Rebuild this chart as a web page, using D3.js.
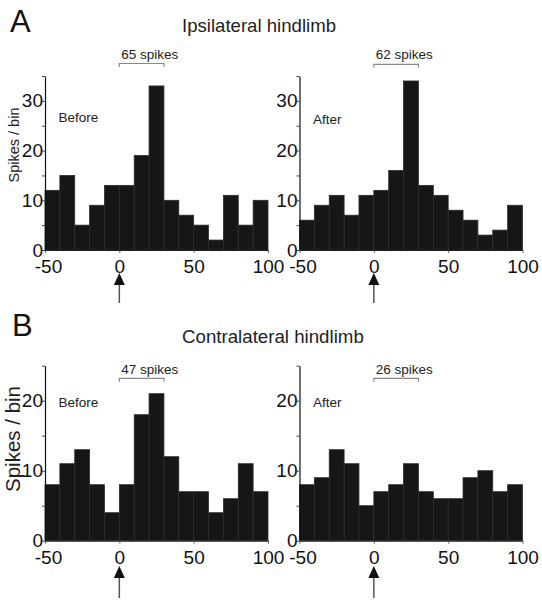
<!DOCTYPE html>
<html>
<head>
<meta charset="utf-8">
<script src="https://cdn.jsdelivr.net/npm/d3@7"></script>
<style>
  html, body { margin: 0; padding: 0; background: #fff; }
  svg { display: block; font-family: "Liberation Sans", Arial, sans-serif; }
</style>
</head>
<body>
<svg id="chart" width="542" height="601"></svg>
<script>
// ---- data ----
const binStarts = [-50, -40, -30, -20, -10, 0, 10, 20, 30, 40, 50, 60, 70, 80, 90];
const binWidth = 10;
const ipsiBefore   = [12, 15, 5, 9, 13, 13, 19, 33, 10, 7, 5, 2, 11, 5, 10];
const ipsiAfter    = [6, 9, 11, 7, 11, 12, 16, 34, 13, 11, 8, 6, 3, 4, 9];
const contraBefore = [8, 11, 13, 8, 4, 8, 18, 21, 12, 7, 7, 4, 6, 11, 7];
const contraAfter  = [8, 9, 13, 11, 5, 7, 8, 11, 7, 6, 6, 9, 10, 7, 8];
const spikeCounts  = [65, 62, 47, 26];
const conditionLabels = ["Before", "After", "Before", "After"];
const rowTitles = ["Ipsilateral hindlimb", "Contralateral hindlimb"];
const rowLetters = ["A", "B"];
const xTicks = [-50, 0, 50, 100];
const yMaxIpsi = 35, yMaxContra = 25;
const yTicksIpsi = [0, 5, 10, 15, 20, 25, 30, 35];
const yTicksContra = [0, 5, 10, 15, 20, 25];
const windowRange = [0, 30];
const yLabel = "Spikes / bin";

const svg = d3.select("#chart");

const panels = [
  { data: ipsiBefore,   x0: 45,    x1: 268,   yb: 250,   yt: 76,    ymax: yMaxIpsi,   yticks: yTicksIpsi,   spikes: spikeCounts[0], label: conditionLabels[0], bracketY: 63.5, textY: 58.5, condY: 122, arrow: [273, 285, 303] },
  { data: ipsiAfter,    x0: 299.5, x1: 522.5, yb: 250,   yt: 76,    ymax: yMaxIpsi,   yticks: yTicksIpsi,   spikes: spikeCounts[1], label: conditionLabels[1], bracketY: 64.3, textY: 59.3, condY: 124, arrow: [273, 285, 303] },
  { data: contraBefore, x0: 45,    x1: 268,   yb: 540.7, yt: 365.7, ymax: yMaxContra, yticks: yTicksContra, spikes: spikeCounts[2], label: conditionLabels[2], bracketY: 378.3, textY: 373.5, condY: 407, arrow: [566, 578, 598] },
  { data: contraAfter,  x0: 299.5, x1: 522.5, yb: 540.7, yt: 365.7, ymax: yMaxContra, yticks: yTicksContra, spikes: spikeCounts[3], label: conditionLabels[3], bracketY: 378.3, textY: 373.5, condY: 407, arrow: [566, 578, 598] }
];

panels.forEach((p, i) => {
  const x = d3.scaleLinear().domain([-50, 100]).range([p.x0, p.x1]);
  const y = d3.scaleLinear().domain([0, p.ymax]).range([p.yb, p.yt]);
  const g = svg.append("g");

  // x axis (under bars)
  const xa = g.append("g")
    .attr("transform", `translate(0,${p.yb})`)
    .call(d3.axisBottom(x).tickValues(xTicks).tickSize(3).tickPadding(6.5).tickSizeOuter(0)
      .tickFormat(d => String(d)));
  xa.select(".domain").attr("stroke", "#111");
  xa.selectAll(".tick line").attr("stroke", "#666");
  xa.selectAll("text").attr("font-size", 19).attr("fill", "#111")
    .attr("font-family", "Liberation Sans, Arial, sans-serif")
    .attr("dx", d => d < 0 ? 3 : 0);

  // bars
  g.selectAll("rect.bar").data(p.data).enter().append("rect")
    .attr("class", "bar")
    .attr("x", (d, j) => x(binStarts[j]))
    .attr("width", (d, j) => x(binStarts[j] + binWidth) - x(binStarts[j]))
    .attr("y", d => y(d))
    .attr("height", d => p.yb - y(d))
    .attr("fill", "#161616")
    .attr("stroke", "#2c2c2c")
    .attr("stroke-width", 0.8);

  // y axis
  const ya = g.append("g")
    .attr("transform", `translate(${p.x0},0)`)
    .call(d3.axisLeft(y).tickValues(p.yticks).tickSize(3).tickPadding(-1).tickSizeOuter(0)
      .tickFormat(d => (d % 10 === 0 && d < p.ymax) ? String(d) : ""));
  ya.select(".domain").attr("stroke", "#111").attr("stroke-width", 1.2);
  ya.selectAll(".tick line").attr("stroke", "#444");
  ya.selectAll("text").attr("font-size", 19).attr("fill", "#111")
    .attr("font-family", "Liberation Sans, Arial, sans-serif");

  // bracket for counting window
  const bx0 = x(windowRange[0]), bx1 = x(windowRange[1]);
  g.append("path")
    .attr("d", `M${bx0},${p.bracketY + 3.5}V${p.bracketY}H${bx1}V${p.bracketY + 3.5}`)
    .attr("fill", "none").attr("stroke", "#888").attr("stroke-width", 1.2);
  g.append("text")
    .attr("x", bx0 + 2).attr("y", p.textY)
    .attr("font-size", 13.5).attr("fill", "#222")
    .text(p.spikes + " spikes");

  // condition label
  g.append("text")
    .attr("x", p.x0 + 13.5).attr("y", p.condY)
    .attr("font-size", 13.5).attr("fill", "#222")
    .text(p.label);

  // stimulus arrow at 0
  const ax = x(0);
  const [aTop, aBase, aEnd] = p.arrow;
  g.append("path")
    .attr("d", `M${ax},${aTop}L${ax + 5.5},${aBase}L${ax - 5.5},${aBase}Z`)
    .attr("fill", "#111");
  g.append("line")
    .attr("x1", ax).attr("x2", ax).attr("y1", aBase).attr("y2", aEnd)
    .attr("stroke", "#555").attr("stroke-width", 1.5);
});

// y axis labels (left panels)
svg.append("text")
  .attr("transform", "translate(19,145) rotate(-90)")
  .attr("text-anchor", "middle").attr("font-size", 14.5).attr("fill", "#222")
  .text(yLabel);
svg.append("text")
  .attr("transform", "translate(20,439) rotate(-90)")
  .attr("text-anchor", "middle").attr("font-size", 20.5).attr("fill", "#222")
  .text(yLabel);

// row letters and titles
svg.append("text").attr("x", 10).attr("y", 32).attr("font-size", 31).attr("fill", "#111").text(rowLetters[0]);
svg.append("text").attr("x", 12).attr("y", 336).attr("font-size", 31).attr("fill", "#111").text(rowLetters[1]);
svg.append("text").attr("x", 182).attr("y", 32).attr("font-size", 18.6).attr("fill", "#222").text(rowTitles[0]);
svg.append("text").attr("x", 182).attr("y", 343).attr("font-size", 18.7).attr("fill", "#222").text(rowTitles[1]);
</script>
</body>
</html>
